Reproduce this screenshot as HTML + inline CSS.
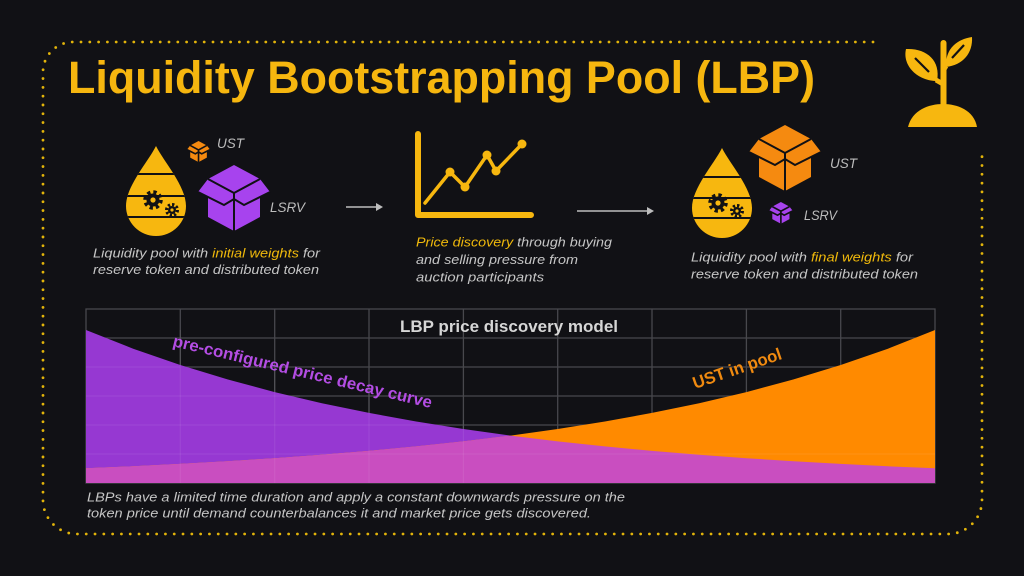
<!DOCTYPE html>
<html><head><meta charset="utf-8"><style>
html,body{margin:0;padding:0;background:#111115;}
svg{display:block;}
text{font-family:"Liberation Sans",sans-serif;}
</style></head><body>
<svg width="1024" height="576" viewBox="0 0 1024 576" xmlns="http://www.w3.org/2000/svg">
<defs>
<clipPath id="dc"><path d="M30,0 C22,16 0,40 0,60 A30,30 0 0 0 60,60 C60,40 38,16 30,0 Z"/></clipPath>
</defs>
<rect width="1024" height="576" fill="#111115"/>

<!-- dotted frame -->
<path d="M873,42 L73,42 A30,30 0 0 0 43,72 L43,500 A34,34 0 0 0 77,534 L948,534 A34,34 0 0 0 982,500 L982,152" fill="none" stroke="#e2b40a" stroke-width="2.8" stroke-linecap="round" stroke-dasharray="0 8.8"/>

<!-- title -->
<text x="68" y="93" font-size="45" font-weight="bold" fill="#f6b60f" textLength="747" lengthAdjust="spacingAndGlyphs">Liquidity Bootstrapping Pool (LBP)</text>

<!-- plant -->
<g fill="#f7b70f">
<path d="M908,127 C912,110 929,104 943,104 C957,104 974,110 977,127 Z"/>
<line x1="943.5" y1="106" x2="943.5" y2="43" stroke="#f7b70f" stroke-width="6" stroke-linecap="round"/>
<path d="M937,81 C941,60 926,48 906,49 C902,66 918,81 937,81 Z"/>
<path d="M946,67 C945,48 958,39 972,37 C973,53 963,65 946,67 Z"/>
<line x1="936" y1="80" x2="943" y2="84" stroke="#f7b70f" stroke-width="5"/>
<line x1="946" y1="66" x2="943" y2="71" stroke="#f7b70f" stroke-width="5"/>
<line x1="915" y1="58" x2="929" y2="72" stroke="#111115" stroke-width="2.2"/>
<line x1="952" y1="58" x2="964" y2="45" stroke="#111115" stroke-width="2.2"/>
</g>

<!-- drop 1 -->
<g transform="translate(126,146)">
<path d="M30,0 C22,16 0,40 0,60 A30,30 0 0 0 60,60 C60,40 38,16 30,0 Z" fill="#f7b70f"/>
<g clip-path="url(#dc)" stroke="#111115" stroke-width="2">
<line x1="0" y1="28" x2="60" y2="28"/><line x1="0" y1="50" x2="60" y2="50"/><line x1="0" y1="71" x2="60" y2="71"/>
</g>
<g transform="translate(27,54)"><circle r="8" fill="none" stroke="#111115" stroke-width="3.5" stroke-dasharray="3.3 3"/><circle r="6.5" fill="#111115"/><circle r="2.6" fill="#f7b70f"/></g>
<g transform="translate(46,64)"><circle r="5.5" fill="none" stroke="#111115" stroke-width="3" stroke-dasharray="2.3 2"/><circle r="4" fill="#111115"/><circle r="1.6" fill="#f7b70f"/></g>
</g>

<!-- drop 2 -->
<g transform="translate(692,148)">
<path d="M30,0 C22,16 0,40 0,60 A30,30 0 0 0 60,60 C60,40 38,16 30,0 Z" fill="#f7b70f"/>
<g clip-path="url(#dc)" stroke="#111115" stroke-width="2">
<line x1="0" y1="29" x2="60" y2="29"/><line x1="0" y1="50" x2="60" y2="50"/><line x1="0" y1="70" x2="60" y2="70"/>
</g>
<g transform="translate(26,55)"><circle r="8" fill="none" stroke="#111115" stroke-width="3.5" stroke-dasharray="3.3 3"/><circle r="6.5" fill="#111115"/><circle r="2.6" fill="#f7b70f"/></g>
<g transform="translate(45,63)"><circle r="5.5" fill="none" stroke="#111115" stroke-width="3" stroke-dasharray="2.3 2"/><circle r="4" fill="#111115"/><circle r="1.6" fill="#f7b70f"/></g>
</g>

<!-- boxes -->
<g transform="translate(198,165)">
<polygon points="36,0 62,14 72,27 62,32 62,52 36,66 10,52 10,32 0,27 10,14" fill="#a743ee"/>
<path d="M10,14 L36,28 L62,14 M0,27 L26,40 L36,34 L46,40 L72,27 M36,28 L36,66" fill="none" stroke="#111115" stroke-width="2"/>
</g>
<g transform="translate(187,141) scale(0.32)">
<polygon points="36,0 62,14 72,27 62,32 62,52 36,66 10,52 10,32 0,27 10,14" fill="#f58a10"/>
<path d="M10,14 L36,28 L62,14 M0,27 L26,40 L36,34 L46,40 L72,27 M36,28 L36,66" fill="none" stroke="#111115" stroke-width="5"/>
</g>
<g transform="translate(749,125)">
<polygon points="36,0 62,14 72,27 62,32 62,52 36,66 10,52 10,32 0,27 10,14" fill="#f58a10"/>
<path d="M10,14 L36,28 L62,14 M0,27 L26,40 L36,34 L46,40 L72,27 M36,28 L36,66" fill="none" stroke="#111115" stroke-width="2"/>
</g>
<g transform="translate(769,202) scale(0.33)">
<polygon points="36,0 62,14 72,27 62,32 62,52 36,66 10,52 10,32 0,27 10,14" fill="#a743ee"/>
<path d="M10,14 L36,28 L62,14 M0,27 L26,40 L36,34 L46,40 L72,27 M36,28 L36,66" fill="none" stroke="#111115" stroke-width="5"/>
</g>

<!-- token labels -->
<g font-size="14" font-style="italic" fill="#bdbdbd">
<text x="217" y="148" textLength="27" lengthAdjust="spacingAndGlyphs">UST</text>
<text x="270" y="212" textLength="35" lengthAdjust="spacingAndGlyphs">LSRV</text>
<text x="830" y="168" textLength="27" lengthAdjust="spacingAndGlyphs">UST</text>
<text x="804" y="220" textLength="33" lengthAdjust="spacingAndGlyphs">LSRV</text>
</g>

<!-- arrows -->
<line x1="346" y1="207" x2="377" y2="207" stroke="#bdbdbd" stroke-width="1.6"/>
<polygon points="376,203 383,207 376,211" fill="#bdbdbd"/>
<line x1="577" y1="211" x2="648" y2="211" stroke="#bdbdbd" stroke-width="1.6"/>
<polygon points="647,207 654,211 647,215" fill="#bdbdbd"/>

<!-- chart icon -->
<path d="M418,134 L418,215 L531,215" fill="none" stroke="#f7b70f" stroke-width="6" stroke-linecap="round" stroke-linejoin="round"/>
<polyline points="425,203 450,172 465,187 487,155 496,171 522,144" fill="none" stroke="#f7b70f" stroke-width="3.5" stroke-linejoin="round" stroke-linecap="round"/>
<g fill="#f7b70f"><circle cx="450" cy="172" r="4.5"/><circle cx="465" cy="187" r="4.5"/><circle cx="487" cy="155" r="4.5"/><circle cx="496" cy="171" r="4.5"/><circle cx="522" cy="144" r="4.5"/></g>

<!-- captions -->
<g font-size="13" font-style="italic" fill="#c6c6c6">
<text x="93" y="257.5" textLength="227" lengthAdjust="spacingAndGlyphs">Liquidity pool with <tspan fill="#f0b90b">initial weights</tspan> for</text>
<text x="93" y="274" textLength="226" lengthAdjust="spacingAndGlyphs">reserve token and distributed token</text>
<text x="416" y="246.5" textLength="196" lengthAdjust="spacingAndGlyphs"><tspan fill="#f0b90b">Price discovery</tspan> through buying</text>
<text x="416" y="264" textLength="162" lengthAdjust="spacingAndGlyphs">and selling pressure from</text>
<text x="416" y="281.5" textLength="128" lengthAdjust="spacingAndGlyphs">auction participants</text>
<text x="691" y="261.5" textLength="222" lengthAdjust="spacingAndGlyphs">Liquidity pool with <tspan fill="#f0b90b">final weights</tspan> for</text>
<text x="691" y="278.5" textLength="227" lengthAdjust="spacingAndGlyphs">reserve token and distributed token</text>
<text x="87" y="501.5" textLength="538" lengthAdjust="spacingAndGlyphs">LBPs have a limited time duration and apply a constant downwards pressure on the</text>
<text x="87" y="517.5" textLength="504" lengthAdjust="spacingAndGlyphs">token price until demand counterbalances it and market price gets discovered.</text>
</g>

<!-- chart grid -->
<g stroke="#48484d" stroke-width="1.3" fill="none">
<rect x="86" y="309" width="849" height="174"/>
<line x1="180.3" y1="309" x2="180.3" y2="483"/><line x1="274.7" y1="309" x2="274.7" y2="483"/><line x1="369" y1="309" x2="369" y2="483"/><line x1="463.4" y1="309" x2="463.4" y2="483"/><line x1="557.7" y1="309" x2="557.7" y2="483"/><line x1="652" y1="309" x2="652" y2="483"/><line x1="746.4" y1="309" x2="746.4" y2="483"/><line x1="840.7" y1="309" x2="840.7" y2="483"/>
<line x1="86" y1="338" x2="935" y2="338"/><line x1="86" y1="367" x2="935" y2="367"/><line x1="86" y1="396" x2="935" y2="396"/><line x1="86" y1="425" x2="935" y2="425"/><line x1="86" y1="454" x2="935" y2="454"/>
</g>

<!-- chart fills -->
<path d="M86,483 L86,330 L133.2,348.7 L180.3,365 L227.5,379.4 L274.7,392.1 L321.9,403.2 L369,412.9 L416.2,421.5 L463.4,429 L510.5,435.6 L557.7,441.4 L604.9,446.4 L652,450.9 L699.2,454.8 L746.4,458.2 L793.6,461.3 L840.7,463.9 L887.9,466.3 L935,468.3 L935,483 Z" fill="#9638d2"/>
<path d="M86,483 L86,468.3 L133.2,466.3 L180.3,463.9 L227.5,461.3 L274.7,458.2 L321.9,454.8 L369,450.9 L416.2,446.4 L463.4,441.4 L510.5,435.6 L557.7,429 L604.9,421.5 L652,412.9 L699.2,403.2 L746.4,392.1 L793.6,379.4 L840.7,365 L887.9,348.7 L935,330 L935,483 Z" fill="#ff8a00"/>
<path d="M86,483 L86,468.3 L133.2,466.3 L180.3,463.9 L227.5,461.3 L274.7,458.2 L321.9,454.8 L369,450.9 L416.2,446.4 L463.4,441.4 L510.5,435.6 L557.7,441.4 L604.9,446.4 L652,450.9 L699.2,454.8 L746.4,458.2 L793.6,461.3 L840.7,463.9 L887.9,466.3 L935,468.3 L935,483 Z" fill="#c94ec0"/>
<g stroke="rgba(255,255,255,0.07)" stroke-width="1.2">
<line x1="180.3" y1="330" x2="180.3" y2="483"/><line x1="274.7" y1="370" x2="274.7" y2="483"/><line x1="369" y1="390" x2="369" y2="483"/><line x1="463.4" y1="420" x2="463.4" y2="483"/>
<line x1="86" y1="367" x2="180" y2="367"/><line x1="86" y1="396" x2="300" y2="396"/><line x1="86" y1="425" x2="430" y2="425"/><line x1="86" y1="454" x2="935" y2="454"/>
</g>

<!-- chart labels -->
<text x="509" y="332" font-size="17" font-weight="bold" fill="#d6d6d6" text-anchor="middle" textLength="218" lengthAdjust="spacingAndGlyphs">LBP price discovery model</text>
<text x="172" y="346" font-size="16.5" font-weight="bold" fill="#b34de3" transform="rotate(13.5 172 346)" textLength="266" lengthAdjust="spacingAndGlyphs">pre-configured price decay curve</text>
<text x="695" y="389" font-size="17" font-weight="bold" fill="#f08a10" transform="rotate(-19 695 389)" textLength="93" lengthAdjust="spacingAndGlyphs">UST in pool</text>
</svg>
</body></html>
